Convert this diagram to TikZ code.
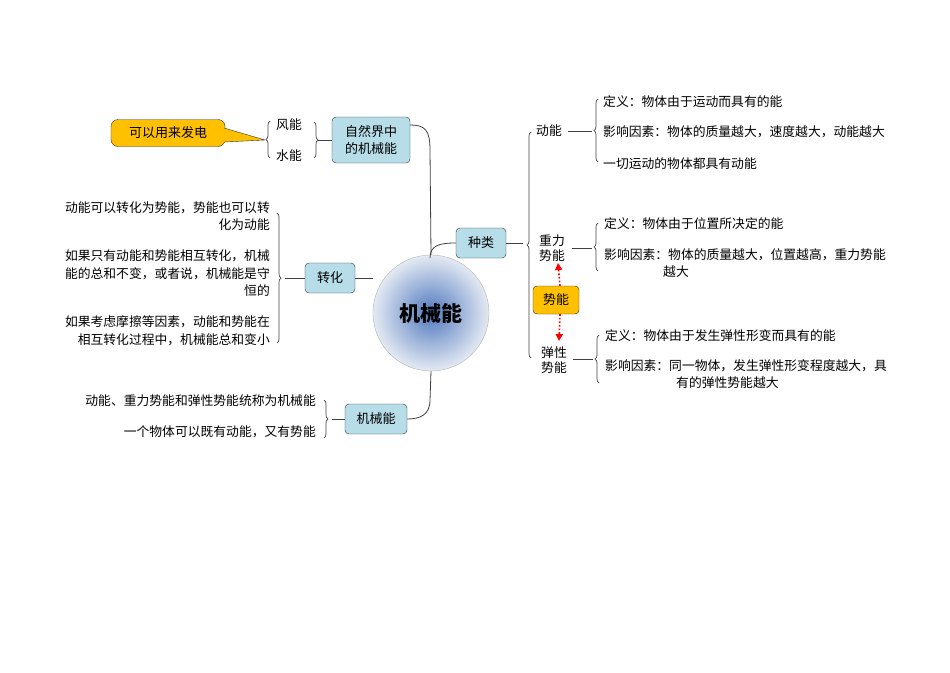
\documentclass[tikz,border=0pt]{standalone}
\usepackage{fontspec}
\setmainfont{Noto Sans CJK SC}
\usetikzlibrary{decorations.pathreplacing,arrows.meta}
\definecolor{bluebox}{HTML}{B7DDE8}
\definecolor{goldbox}{HTML}{FFC000}
\begin{document}
\begin{tikzpicture}[x=1pt,y=-1pt,
  every node/.style={font=\fontsize{12.8}{15}\selectfont, inner sep=1pt},
  bbox/.style={draw=black!80, fill=bluebox, rounded corners=4pt, align=center, font=\fontsize{13}{17}\selectfont},
  ybox/.style={draw=black!80, fill=goldbox, rounded corners=4pt, align=center, font=\fontsize{13}{17}\selectfont},
  ln/.style={draw=black!75, line width=0.8pt},
  br/.style={draw=black!75, line width=0.7pt, decorate, decoration={brace, amplitude=4pt}},
  lt/.style={anchor=west},
  rt/.style={anchor=east},
  red arrow/.style={draw=red, line width=1.6pt, dotted, -{Triangle[length=7pt,width=7pt]}}]
\useasboundingbox (0,0) rectangle (950,672);
% central
\node[circle, minimum size=116pt, draw=black!30, inner color={rgb,255:red,80;green,120;blue,190}, outer color={rgb,255:red,228;green,234;blue,243}, font=\fontsize{21}{24}\selectfont\bfseries] (c) at (431,313) {机械能};
\node[bbox, minimum width=50pt, minimum height=30pt] (zl) at (481,243) {种类};
\node[bbox, minimum width=78pt, minimum height=46pt] (zr) at (371,140) {自然界中\\的机械能};
\node[bbox, minimum width=50pt, minimum height=30pt] (zh) at (330,278) {转化};
\node[bbox, minimum width=62pt, minimum height=30pt] (jx) at (376,419) {机械能};
\node[ybox, minimum width=46pt, minimum height=28pt] (sn) at (556,300) {势能};
% trunk
\coordinate (t1) at (430,150);
\draw[ln] (zr.east |- 0,125) .. controls (425,125) and (430,130) .. (t1) -- (c.north);
\draw[ln] (430,258) .. controls (430,245) and (440,243) .. (zl.west);
\draw[ln] (c.south) -- (430,400) .. controls (430,415) and (420,419) .. (jx.east);
\draw[ln] (zh.east) -- (c.west |- zh.east);
% 自然界
\coordinate (b1) at (318,140);
\draw[ln] (zr.west) -- (b1);
\draw[br] (314,122) -- (314,158);
\node[rt] (fn) at (303,125) {风能};
\node[rt] (sn2) at (303,156) {水能};
\draw[br] (270,158) -- (270,121);
\node[draw=black!80, fill=goldbox, rounded corners=7pt, minimum width=114pt, minimum height=27pt, font=\fontsize{13}{16}\selectfont] (cb) at (168,133) {可以用来发电};
\coordinate (ct) at (265,140);
\draw[draw=black!80, fill=goldbox] (224,128) -- (ct) -- (224,142);
\fill[goldbox] (223,129) rectangle (226,141);
% 转化
\draw[ln] (zh.west) -- (285,278);
\draw[br] (277,213) -- (277,343);
\node[rt] (h1) at (271,208) {动能可以转化为势能，势能也可以转};
\node[rt] (h2) at (271,225) {化为动能};
\node[rt] (h3) at (271,256) {如果只有动能和势能相互转化，机械};
\node[rt] (h4) at (271,274) {能的总和不变，或者说，机械能是守};
\node[rt] (h5) at (271,291) {恒的};
\node[rt] (h6) at (271,322) {如果考虑摩擦等因素，动能和势能在};
\node[rt] (h7) at (271,340) {相互转化过程中，机械能总和变小};
% 机械能
\draw[ln] (jx.west) -- (332,419);
\draw[br] (324,400) -- (324,438);
\node[rt] (j1) at (317,401) {动能、重力势能和弹性势能统称为机械能};
\node[rt] (j2) at (317,432) {一个物体可以既有动能，又有势能};
% 种类
\draw[ln] (zl.east) -- (523,243);
\draw[br] (531,358) -- (531,132);
\node (dn) at (549,131) {动能};
\node[align=center] (zln) at (552,248) {重力\\势能};
\node[align=center] (txn) at (554,360) {弹性\\势能};
\draw[ln] (dn.east) ++(5,0) -- (592,131);
\draw[br] (598,162) -- (598,99);
\node[lt] (d1) at (602,102) {定义：物体由于运动而具有的能};
\node[lt] (d2) at (602,132) {影响因素：物体的质量越大，速度越大，动能越大};
\node[lt] (d3) at (602,164) {一切运动的物体都具有动能};
\draw[ln] (572,248) -- (592,248);
\draw[br] (598,271) -- (598,223);
\node[lt] (g1) at (603,224) {定义：物体由于位置所决定的能};
\node[lt] (g2) at (603,255) {影响因素：物体的质量越大，位置越高，重力势能};
\node[lt] (g3) at (662,272) {越大};
\draw[ln] (573,359) -- (593,359);
\draw[br] (599,383) -- (599,335);
\node[lt] (e1) at (604,336) {定义：物体由于发生弹性形变而具有的能};
\node[lt] (e2) at (604,366) {影响因素：同一物体，发生弹性形变程度越大，具};
\node[lt] (e3) at (675,383) {有的弹性势能越大};
\draw[red arrow] (sn.north) ++(4,0) -- (558,263);
\draw[red arrow] (sn.south) ++(4,0) -- (559,341);
\end{tikzpicture}
\end{document}
